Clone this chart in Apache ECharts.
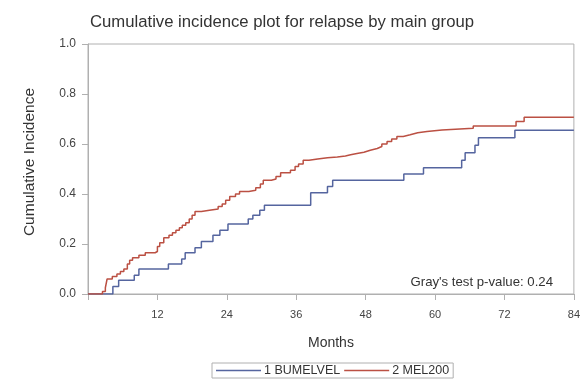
<!DOCTYPE html>
<html>
<head>
<meta charset="utf-8">
<script src="https://cdn.jsdelivr.net/npm/echarts@6/dist/echarts.min.js"></script>
<style>
html,body{margin:0;padding:0;background:#fff;}
#c{width:583px;height:379px;}
</style>
</head>
<body>
<div id="c"></div>
<script>
// Group 1 BUMELVEL (step function: value holds from month until next month)
const bumelvelMonths = [0, 4.3, 5.3, 8.0, 8.8, 13.9, 16.2, 16.8, 18.5, 19.6, 21.6, 22.8, 24.2, 27.7, 28.5, 29.7, 30.5, 38.5, 41.4, 42.3, 54.6, 58.0, 64.6, 65.2, 66.9, 67.5, 73.8, 84];
const bumelvelCI = [0, 0.03, 0.055, 0.075, 0.1, 0.12, 0.14, 0.165, 0.185, 0.21, 0.235, 0.255, 0.28, 0.3, 0.315, 0.335, 0.355, 0.405, 0.43, 0.455, 0.48, 0.505, 0.535, 0.565, 0.595, 0.625, 0.655, 0.655];

// Group 2 MEL200
const mel200Months = [0, 2.5, 3.0, 3.3, 4.2, 5.0, 5.6, 6.2, 6.8, 7.2, 7.7, 8.8, 9.9, 11.6, 12.0, 12.4, 13.1, 14.0, 14.6, 15.2, 15.8, 16.3, 16.9, 17.5, 18.0, 18.5, 19.6, 21.0, 22.5, 23.2, 23.8, 24.5, 25.5, 26.2, 27.8, 29.0, 29.8, 30.3, 31.7, 32.5, 33.3, 35.0, 35.8, 36.4, 37.2, 38.2, 39.7, 41.4, 43.1, 44.5, 45.4, 46.5, 47.7, 48.8, 50.0, 50.8, 51.7, 52.5, 53.4, 54.5, 55.7, 57.0, 58.6, 61.2, 66.6, 74.0, 75.4, 84];
const mel200CI = [0, 0.01, 0.025, 0.06, 0.07, 0.08, 0.09, 0.1, 0.12, 0.135, 0.145, 0.155, 0.165, 0.17, 0.19, 0.205, 0.225, 0.235, 0.245, 0.255, 0.265, 0.275, 0.285, 0.3, 0.315, 0.33, 0.335, 0.34, 0.35, 0.36, 0.375, 0.39, 0.4, 0.41, 0.415, 0.425, 0.44, 0.455, 0.46, 0.47, 0.485, 0.495, 0.51, 0.52, 0.535, 0.54, 0.545, 0.548, 0.552, 0.557, 0.562, 0.567, 0.575, 0.582, 0.59, 0.6, 0.61, 0.62, 0.63, 0.637, 0.645, 0.65, 0.656, 0.663, 0.672, 0.69, 0.707, 0.707];

const seriesNames = ['1 BUMELVEL', '2 MEL200'];
const xTicks = [12, 24, 36, 48, 60, 72, 84];
const yTicks = [0.0, 0.2, 0.4, 0.6, 0.8, 1.0];
const titleText = 'Cumulative incidence plot for relapse by main group';
const pValueText = "Gray's test p-value: 0.24";

const zip = (xs, ys) => xs.map((x, i) => [x, ys[i]]);
const FONT = '"Liberation Sans", Arial, sans-serif';

const chart = echarts.init(document.getElementById('c'), null, {renderer: 'canvas'});
chart.setOption({
  animation: false,
  backgroundColor: '#ffffff',
  title: {
    text: titleText,
    left: 85, top: 9,
    textStyle: {fontFamily: FONT, fontSize: 16.7, fontWeight: 'normal', color: '#333333'}
  },
  grid: {left: 88, right: 5, top: 44, bottom: 85, show: true, borderColor: '#b0b0b0', borderWidth: 1},
  xAxis: {
    type: 'value', min: 0, max: 84, interval: 12,
    name: 'Months', nameLocation: 'middle', nameGap: 42,
    nameTextStyle: {fontFamily: FONT, fontSize: 14, color: '#333333'},
    axisLine: {show: true, lineStyle: {color: '#b0b0b0'}},
    axisTick: {show: true, length: 6, lineStyle: {color: '#b0b0b0'}},
    axisLabel: {
      fontFamily: FONT, fontSize: 11, color: '#444444', margin: 15,
      formatter: v => xTicks.includes(v) ? String(v) : ''
    },
    splitLine: {show: false}
  },
  yAxis: {
    type: 'value', min: 0, max: 1, interval: 0.2,
    name: 'Cumulative Incidence', nameLocation: 'middle', nameGap: 50,
    nameTextStyle: {fontFamily: FONT, fontSize: 15.5, color: '#333333', padding: [0, 0, 0, 14]},
    axisLine: {show: true, lineStyle: {color: '#b0b0b0'}},
    axisTick: {show: true, length: 6, lineStyle: {color: '#b0b0b0'}},
    axisLabel: {
      fontFamily: FONT, fontSize: 12, color: '#444444', margin: 12,
      formatter: v => yTicks.some(t => Math.abs(t - v) < 1e-9) ? v.toFixed(1) : ''
    },
    splitLine: {show: false}
  },
  legend: {
    data: seriesNames,
    left: 212, top: 363,
    orient: 'horizontal',
    icon: 'rect', itemWidth: 45, itemHeight: 1.5, itemGap: 4,
    padding: [1, 4, 1, 4],
    borderColor: '#b0b0b0', borderWidth: 1,
    textStyle: {fontFamily: FONT, fontSize: 12.5, color: '#333333', padding: [0, 0, 0, -2]}
  },
  graphic: [{
    type: 'text', right: 30, top: 276,
    style: {text: pValueText, font: '13.2px ' + FONT, fill: '#333333'}
  }],
  series: [
    {
      name: seriesNames[0], type: 'line', step: 'end', showSymbol: false,
      data: zip(bumelvelMonths, bumelvelCI),
      lineStyle: {color: '#55659f', width: 1.5}, itemStyle: {color: '#55659f'}
    },
    {
      name: seriesNames[1], type: 'line', step: 'end', showSymbol: false,
      data: zip(mel200Months, mel200CI),
      lineStyle: {color: '#bb5043', width: 1.5}, itemStyle: {color: '#bb5043'}
    }
  ]
});
</script>
</body>
</html>
